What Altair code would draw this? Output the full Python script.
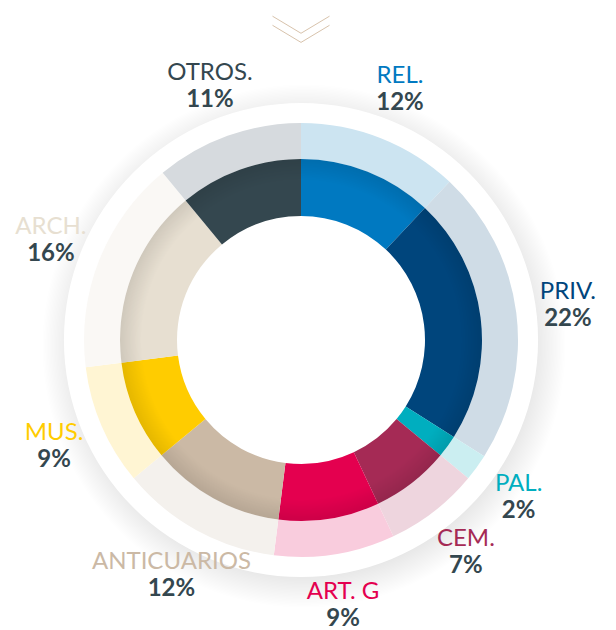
import altair as alt
import pandas as pd

cats = ["REL.", "PRIV.", "PAL.", "CEM.", "ART. G", "ANTICUARIOS", "MUS.", "ARCH.", "OTROS."]
vals = [12, 22, 2, 7, 9, 12, 9, 16, 11]
dark = ["#0079C1", "#00457C", "#00AEBF", "#A52A55", "#E4004F",
        "#CBB9A5", "#FFCC00", "#E7DFD1", "#34474F"]
light = ["#CCE4F1", "#CFDCE6", "#CBEEF1", "#EED5DE", "#F9CCDD",
         "#F4F1ED", "#FFF5D3", "#FAF8F5", "#D6DADE"]

df = pd.DataFrame({
    "cat": cats,
    "val": vals,
    "idx": list(range(len(cats))),
    "dark": dark,
    "light": light,
    "pct": [f"{v}%" for v in vals],
})

CX, CY = 293, 332
TWO_PI = 6.283185307
LABEL_R = 269

one = pd.DataFrame({"k": [0]})

shadow = alt.Chart(one).mark_arc(
    theta=0, theta2=TWO_PI, radius=262,
    fill=alt.Gradient(
        gradient="radial",
        stops=[
            alt.GradientStop(offset=0.0, color="rgba(0,0,0,0.10)"),
            alt.GradientStop(offset=0.88, color="rgba(0,0,0,0.09)"),
            alt.GradientStop(offset=1.0, color="rgba(0,0,0,0)"),
        ],
        x1=0.5, y1=0.5, x2=0.5, y2=0.5, r1=0, r2=0.5,
    ),
).encode(x=alt.value(CX + 3), y=alt.value(CY + 6))

rim = alt.Chart(one).mark_arc(
    theta=0, theta2=TWO_PI, radius=237, fill="#FFFFFF"
).encode(x=alt.value(CX), y=alt.value(CY))

base = alt.Chart(df).encode(
    theta=alt.Theta("val:Q", stack=True),
    order=alt.Order("idx:Q"),
    x=alt.value(CX),
    y=alt.value(CY),
)

outer = base.mark_arc(radius=217, radius2=181, stroke=None).encode(
    fill=alt.Fill("light:N", scale=None)
)
inner = base.mark_arc(radius=181, radius2=124, stroke=None).encode(
    fill=alt.Fill("dark:N", scale=None)
)

shade = alt.Chart(one).mark_arc(
    theta=0, theta2=TWO_PI, radius=181, radius2=124,
    fill=alt.Gradient(
        gradient="radial",
        stops=[
            alt.GradientStop(offset=0.68, color="rgba(0,0,0,0)"),
            alt.GradientStop(offset=0.88, color="rgba(0,0,0,0)"),
            alt.GradientStop(offset=1.0, color="rgba(0,0,0,0.10)"),
        ],
        x1=0.5, y1=0.5, x2=0.5, y2=0.5, r1=0, r2=0.5,
    ),
).encode(x=alt.value(CX), y=alt.value(CY))

lab = base.mark_text(radius=LABEL_R, dy=-14, font="Lato", fontSize=24).encode(
    text="cat:N", color=alt.Color("dark:N", scale=None)
)
pct = base.mark_text(radius=LABEL_R, dy=13, font="Lato", fontSize=24,
                     fontWeight="bold", color="#34474F").encode(text="pct:N")

chev = alt.Chart(one).mark_point(
    shape="M-1,-0.45L0,0.15L1,-0.45M-1,-0.13L0,0.47L1,-0.13",
    size=3249, filled=False, stroke="#D8C3AC", strokeWidth=1, opacity=1,
).encode(x=alt.value(CX), y=alt.value(21))

chart = alt.layer(shadow, rim, outer, inner, shade, lab, pct, chev).properties(
    width=600, height=622,
    autosize=alt.AutoSizeParams(type="none"),
    padding=0,
    background="#FFFFFF",
).configure_view(stroke=None)

chart.save("out.html", embed_options={"renderer": "svg", "actions": False})
